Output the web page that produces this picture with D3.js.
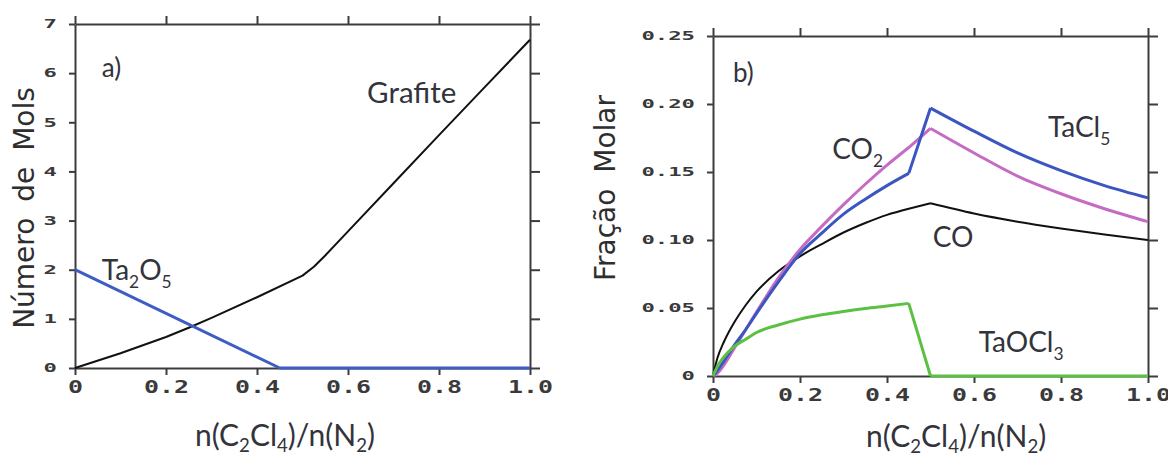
<!DOCTYPE html>
<html><head><meta charset="utf-8">
<script src="https://cdn.jsdelivr.net/npm/d3@7"></script>
<style>body{margin:0;background:#fff}</style>
</head><body><svg id="c" width="1168" height="456"></svg>
<script>
// ---- tick values & labels
const xTicks = [0, 0.2, 0.4, 0.6, 0.8, 1.0];
const xTickLabels = ["0", "0.2", "0.4", "0.6", "0.8", "1.0"];
const yTicksA = [0, 1, 2, 3, 4, 5, 6, 7];
const yTickLabelsA = ["0", "1", "2", "3", "4", "5", "6", "7"];
const yTicksB = [0, 0.05, 0.10, 0.15, 0.20, 0.25];
const yTickLabelsB = ["0", "0.05", "0.10", "0.15", "0.20", "0.25"];

// ---- panel a) Número de Mols
const xGrafite = [0, 0.1, 0.2, 0.25, 0.3, 0.4, 0.5, 0.525, 0.55, 0.6, 0.7, 0.8, 0.9, 1.0];
const grafite  = [0, 0.30, 0.63, 0.82, 1.02, 1.44, 1.88, 2.06, 2.29, 2.78, 3.76, 4.74, 5.71, 6.68];
const xTa2O5 = [0, 0.45, 1.0];
const ta2o5  = [2.0, 0, 0];

// ---- panel b) Fração Molar
const xFrac  = [0, 0.01, 0.025, 0.05, 0.075, 0.1, 0.15, 0.2, 0.25, 0.3, 0.35, 0.4, 0.45, 0.5, 0.6, 0.7, 0.8, 0.9, 1.0];
const co     = [0, 0.013, 0.025, 0.040, 0.052, 0.062, 0.077, 0.088, 0.097, 0.1055, 0.1125, 0.1185, 0.1230, 0.127, 0.1195, 0.1135, 0.1085, 0.104, 0.100];
const co2    = [0, 0.002, 0.008, 0.021, 0.034, 0.047, 0.072, 0.093, 0.110, 0.126, 0.141, 0.155, 0.168, 0.182, 0.164, 0.147, 0.134, 0.123, 0.1135];
const tacl5  = [0, 0.004, 0.011, 0.023, 0.034, 0.046, 0.069, 0.090, 0.105, 0.119, 0.130, 0.140, 0.149, 0.197, 0.180, 0.164, 0.151, 0.140, 0.131];
const taocl3 = [0, 0.007, 0.014, 0.022, 0.027, 0.032, 0.0375, 0.0418, 0.0450, 0.0475, 0.0497, 0.0515, 0.0534, 0, 0, 0, 0, 0, 0];
const cornersB = [0.45, 0.5];

const svg = d3.select("#c");
const AXC = "#3c3c3c";
const TXT = "#33333b";

function styleTickText(sel, fs, adv) {
  sel.selectAll(".tick text")
    .attr("font-family", "DejaVu Sans Mono, monospace")
    .attr("font-weight", "bold")
    .attr("font-size", fs)
    .attr("fill", "#3a3a3a")
    .attr("textLength", function(){ return this.textContent.length * adv; })
    .attr("lengthAdjust", "spacingAndGlyphs");
}
function styleAxis(sel) {
  sel.select(".domain").attr("stroke", AXC).attr("stroke-width", 2);
  sel.selectAll(".tick line").attr("stroke", AXC).attr("stroke-width", 2);
}

function panel(xr, yr, ydom, yTicks, yLabels) {
  const x = d3.scaleLinear().domain([0, 1]).range(xr);
  const y = d3.scaleLinear().domain(ydom).range(yr);
  const g = svg.append("g");
  const ax = g.append("g").attr("transform", `translate(0,${yr[0]})`)
    .call(d3.axisBottom(x).tickValues(xTicks).tickFormat((d,i)=>xTickLabels[i]).tickSize(7).tickPadding(6).tickSizeOuter(0));
  styleAxis(ax); styleTickText(ax, 17, 15);
  const at = g.append("g").attr("transform", `translate(0,${yr[1]})`)
    .call(d3.axisTop(x).tickValues(xTicks).tickFormat("").tickSize(8).tickSizeOuter(0));
  styleAxis(at);
  const al = g.append("g").attr("transform", `translate(${xr[0]},0)`)
    .call(d3.axisLeft(y).tickValues(yTicks).tickFormat((d,i)=>yLabels[i]).tickSize(6).tickPadding(12).tickSizeOuter(0));
  styleAxis(al); styleTickText(al, 12, 13.4);
  const ar = g.append("g").attr("transform", `translate(${xr[1]},0)`)
    .call(d3.axisRight(y).tickValues(yTicks).tickFormat("").tickSize(10).tickSizeOuter(0));
  styleAxis(ar);
  return {x, y, g};
}

// monotone (or linear) line, split into pieces at corner x-values so kinks stay sharp
function drawLine(p, xs, ys, color, w, corners, curve) {
  const pts = xs.map((xv, i) => [xv, ys[i]]);
  const pieces = [];
  let cur = [];
  pts.forEach(pt => {
    cur.push(pt);
    if ((corners || []).includes(pt[0])) { pieces.push(cur); cur = [pt]; }
  });
  if (cur.length > 1) pieces.push(cur);
  const line = d3.line().x(d => p.x(d[0])).y(d => p.y(d[1])).curve(curve || d3.curveMonotoneX);
  const d = pieces.map(pc => line(pc)).join("");
  p.g.append("path").attr("d", d)
    .attr("fill", "none").attr("stroke", color).attr("stroke-width", w)
    .attr("stroke-linejoin", "round");
}

// label with "_x" meaning subscript x
function label(p, xv, yv, str, fs, subShift) {
  const t = p.g.append("text").attr("x", p.x(xv)).attr("y", p.y(yv))
    .attr("font-family", "Lato, 'Open Sans', sans-serif").attr("font-size", fs).attr("fill", TXT);
  const shift = (subShift || 0.27) * fs;
  const segs = str.split("_");
  segs.forEach((s, k) => {
    if (k === 0) { if (s) t.append("tspan").text(s); return; }
    t.append("tspan").attr("font-size", fs * 0.62).attr("dy", shift).text(s[0]);
    t.append("tspan").attr("dy", -shift).text(s.slice(1));
  });
  return t;
}

// ---- Panel a
const pa = panel([75, 530], [368, 24], [0, 7], yTicksA, yTickLabelsA);
drawLine(pa, xGrafite, grafite, "#111", 2, [], d3.curveLinear);
drawLine(pa, xTa2O5, ta2o5, "#3d5cc4", 3, [], d3.curveLinear);
label(pa, 0.059, 5.92, "a)", 26);
label(pa, 0.642, 5.39, "Grafite", 29.5);
label(pa, 0.059, 1.79, "Ta_2O_5", 28);
label(pa, 0.4615, -1.59, "n(C_2Cl_4)/n(N_2)", 30, 0.2).attr("text-anchor", "middle");
svg.append("text").attr("transform", "translate(34,208) rotate(-90)")
  .attr("text-anchor", "middle").attr("font-family", "DejaVu Sans, sans-serif")
  .attr("font-size", 28).attr("word-spacing", 7).attr("fill", "#2e2e2e").text("Número de Mols");

// ---- Panel b
const pb = panel([713, 1148], [376, 36], [0, 0.25], yTicksB, yTickLabelsB);
drawLine(pb, xFrac, co, "#111", 2, cornersB);
drawLine(pb, xFrac, co2, "#c46cc4", 3, cornersB);
drawLine(pb, xFrac, tacl5, "#3b56c0", 3, cornersB);
drawLine(pb, xFrac, taocl3, "#5cc043", 3, cornersB);
label(pb, 0.046, 0.216, "b)", 26);
label(pb, 0.274, 0.1596, "CO_2", 28);
label(pb, 0.770, 0.1757, "TaCl_5", 28);
label(pb, 0.505, 0.0949, "CO", 28);
label(pb, 0.611, 0.0176, "TaOCl_3", 28);
label(pb, 0.559, -0.0521, "n(C_2Cl_4)/n(N_2)", 30, 0.2).attr("text-anchor", "middle");
svg.append("text").attr("transform", "translate(615,188) rotate(-90)")
  .attr("text-anchor", "middle").attr("font-family", "DejaVu Sans, sans-serif")
  .attr("font-size", 28).attr("word-spacing", 7).attr("fill", "#2e2e2e").text("Fração Molar");
</script></body></html>
